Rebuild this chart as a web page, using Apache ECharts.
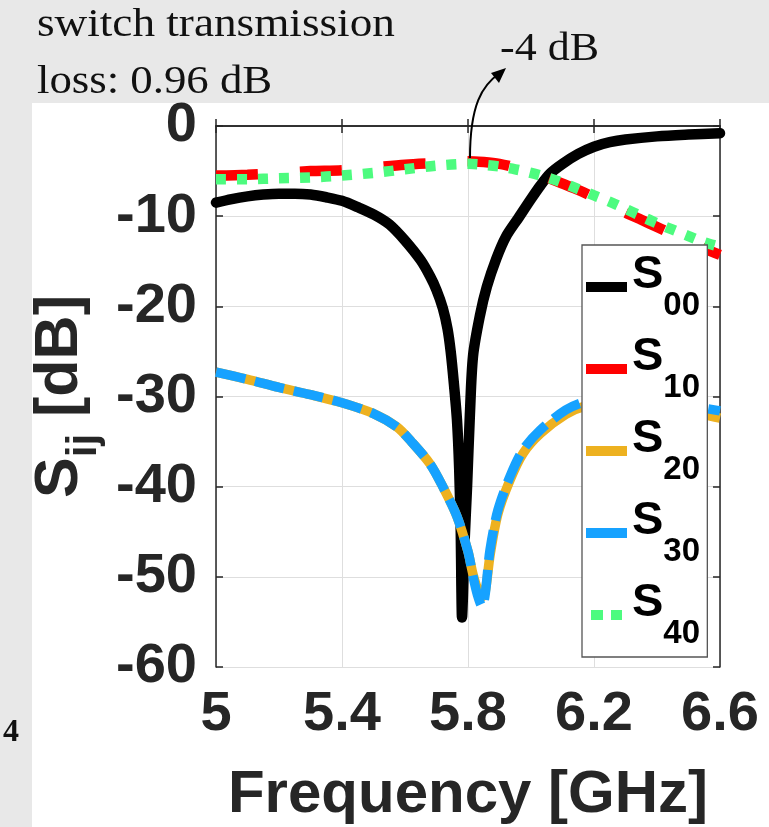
<!DOCTYPE html>
<html>
<head>
<meta charset="utf-8">
<script src="https://cdn.jsdelivr.net/npm/echarts@6/dist/echarts.min.js"></script>
<style>
  html, body { margin: 0; padding: 0; background: #e8e8e8; }
  #main { width: 769px; height: 827px; }
</style>
</head>
<body>
<div id="main"></div>
<script>
// S00 (reflection) - black
var freqS00 = [5.00, 5.05, 5.10, 5.15, 5.20, 5.25, 5.30, 5.35, 5.40, 5.45, 5.50, 5.55, 5.60, 5.65, 5.68,
    5.70, 5.72, 5.735, 5.745, 5.755, 5.765, 5.772, 5.777, 5.779, 5.781, 5.784, 5.788, 5.797, 5.806, 5.816,
    5.838, 5.860, 5.890, 5.920, 5.960, 6.000, 6.030, 6.060, 6.100, 6.150, 6.200, 6.250, 6.300, 6.400, 6.500, 6.600];
var s00 = [-8.5, -8.1, -7.8, -7.6, -7.5, -7.5, -7.6, -7.9, -8.3, -9.0, -9.8, -10.9, -12.7, -14.9, -16.7,
    -18.2, -20.2, -22.5, -25.0, -28.5, -32.6, -38.0, -45.0, -51.0, -54.5, -52.0, -47.0, -40.0, -32.0, -25.5,
    -21.0, -17.8, -14.7, -12.3, -10.2, -8.1, -6.6, -5.3, -4.2, -3.1, -2.3, -1.8, -1.5, -1.15, -0.95, -0.8];

// S10 / S40 (transmission)
var freqTx = [5.00, 5.10, 5.20, 5.30, 5.40, 5.50, 5.60, 5.70, 5.80, 5.85, 5.90, 5.95, 6.00, 6.05, 6.10,
    6.15, 6.20, 6.25, 6.30, 6.35, 6.40, 6.45, 6.50, 6.55, 6.60];
var s10 = [-5.5, -5.4, -5.2, -5.0, -4.9, -4.6, -4.3, -4.1, -3.9, -4.0, -4.2, -4.6, -5.1, -5.7, -6.4,
    -7.1, -7.9, -8.7, -9.6, -10.4, -11.2, -12.0, -12.8, -13.6, -14.3];
var s40 = [-5.9, -5.9, -5.8, -5.7, -5.5, -5.2, -4.8, -4.4, -4.2, -4.3, -4.5, -4.8, -5.2, -5.7, -6.3,
    -7.0, -7.7, -8.4, -9.2, -10.0, -10.8, -11.5, -12.2, -12.9, -13.4];

// S20 / S30 (isolation)
var freqIso = [5.00, 5.10, 5.20, 5.30, 5.40, 5.50, 5.575, 5.62, 5.68, 5.72, 5.765, 5.80, 5.815, 5.83,
    5.845, 5.855, 5.87, 5.895, 5.933, 5.975, 6.03, 6.11, 6.17, 6.25, 6.35, 6.45, 6.55, 6.60];
var s20 = [-27.3, -28.1, -29.0, -29.8, -30.7, -31.9, -33.4, -35.0, -37.5, -40.0, -43.3, -47.2, -49.6, -51.3,
    -52.2, -51.6, -47.6, -43.0, -39.3, -36.3, -34.1, -32.0, -31.1, -30.8, -30.9, -31.3, -32.0, -32.4];
var s30 = [-27.3, -28.1, -29.0, -29.8, -30.7, -31.9, -33.4, -35.0, -37.5, -40.0, -43.3, -47.2, -49.8, -52.0,
    -53.3, -51.8, -47.0, -42.6, -38.9, -35.9, -33.7, -31.5, -30.6, -30.3, -30.4, -30.8, -31.3, -31.6];

var seriesNames = ['S00', 'S10', 'S20', 'S30', 'S40'];
var seriesColors = ['#000000', '#ff0000', '#edb120', '#16a2ff', '#4dfb7f'];

function pairs(xs, ys) {
    return xs.map(function (x, i) { return [x, ys[i]]; });
}

var myChart = echarts.init(document.getElementById('main'));

var axisColor = '#262626';
var sans = 'Liberation Sans, Arial';
var tickFont = { fontSize: 56, fontWeight: 'bold', fontFamily: sans, color: axisColor };

var option = {
    animation: false,
    backgroundColor: '#e8e8e8',
    grid: {
        left: 216, top: 126, right: 49, bottom: 160,
        containLabel: false,
        outerBoundsMode: 'none'
    },
    xAxis: [{
        type: 'value', min: 5, max: 6.6, interval: 0.4,
        name: 'Frequency [GHz]', nameLocation: 'middle', nameGap: 98,
        nameTextStyle: { fontSize: 60, fontWeight: 'bold', fontFamily: sans, color: axisColor },
        axisLine: { show: true, lineStyle: { color: axisColor, width: 1.5 } },
        axisTick: { show: true, inside: true, length: 7, lineStyle: { color: axisColor, width: 1.5 } },
        axisLabel: Object.assign({ margin: 20, formatter: function (v) { return String(+v.toFixed(1)); } }, tickFont),
        splitLine: { show: true, lineStyle: { color: '#dedede', width: 1 } }
    }, {
        type: 'value', min: 5, max: 6.6, interval: 0.4, position: 'top',
        axisLine: { show: true, lineStyle: { color: axisColor, width: 1.5 } },
        axisTick: { show: true, inside: true, length: 7, lineStyle: { color: axisColor, width: 1.5 } },
        axisLabel: { show: false },
        splitLine: { show: false }
    }],
    yAxis: [{
        type: 'value', min: -60, max: 0, interval: 10,
        name: '{s|S}{b|ij}{n| [dB]}', nameLocation: 'middle', nameRotate: 90, nameGap: 68,
        nameTextStyle: {
            rich: {
                s: { fontSize: 61, fontWeight: 'bold', fontFamily: sans, color: axisColor, lineHeight: 75, verticalAlign: 'top' },
                b: { fontSize: 42, fontWeight: 'bold', fontFamily: sans, color: axisColor, lineHeight: 42, verticalAlign: 'bottom' },
                n: { fontSize: 61, fontWeight: 'bold', fontFamily: sans, color: axisColor, lineHeight: 75, verticalAlign: 'top' }
            }
        },
        axisLine: { show: true, lineStyle: { color: axisColor, width: 1.5 } },
        axisTick: { show: true, inside: true, length: 7, lineStyle: { color: axisColor, width: 1.5 } },
        axisLabel: Object.assign({ margin: 19 }, tickFont),
        splitLine: { show: true, lineStyle: { color: '#dedede', width: 1 } }
    }, {
        type: 'value', min: -60, max: 0, interval: 10, position: 'right',
        axisLine: { show: true, lineStyle: { color: axisColor, width: 1.5 } },
        axisTick: { show: true, inside: true, length: 7, lineStyle: { color: axisColor, width: 1.5 } },
        axisLabel: { show: false },
        splitLine: { show: false }
    }],
    legend: {
        orient: 'vertical',
        left: 582, top: 245,
        padding: [7, 7, 7, 4],
        itemGap: 12,
        itemWidth: 41, itemHeight: 10,
        backgroundColor: '#ffffff',
        borderColor: '#555555', borderWidth: 1.3, borderRadius: 0,
        selectedMode: false,
        data: [
            { name: 'S00', icon: 'rect' },
            { name: 'S10', icon: 'rect' },
            { name: 'S20', icon: 'rect' },
            { name: 'S30', icon: 'rect' },
            { name: 'S40', icon: 'path://M0,0H12V10H0Z M20,0H31V10H20Z' }
        ],
        formatter: function (n) { return '{s|S}{b|' + n.slice(1) + '}{h| }'; },
        textStyle: {
            rich: {
                s: { fontSize: 47, fontWeight: 'bold', fontFamily: sans, color: '#000', lineHeight: 56, verticalAlign: 'top' },
                b: { fontSize: 33, fontWeight: 'bold', fontFamily: sans, color: '#000', lineHeight: 30, verticalAlign: 'bottom' },
                h: { fontSize: 1, lineHeight: 70 }
            }
        }
    },
    graphic: [
        { type: 'rect', z: -100, shape: { x: 32, y: 103, width: 737, height: 724 }, style: { fill: '#ffffff' } },
        { type: 'text', x: 37, y: 25, scaleX: 1.13, style: { text: 'switch transmission', font: '40px "Liberation Serif", serif', fill: '#111', verticalAlign: 'middle' } },
        { type: 'text', x: 37, y: 82, scaleX: 1.12, style: { text: 'loss: 0.96 dB', font: '40px "Liberation Serif", serif', fill: '#111', verticalAlign: 'middle' } },
        { type: 'text', x: 500, y: 49, scaleX: 1.1, style: { text: '-4 dB', font: '40px "Liberation Serif", serif', fill: '#111', verticalAlign: 'middle' } },
        { type: 'text', x: 3, y: 733, style: { text: '4', font: 'bold 32px "Liberation Serif", serif', fill: '#111', verticalAlign: 'middle' } },
        { type: 'bezierCurve', z: 100, shape: { x1: 470, y1: 158, cpx1: 470, cpy1: 105, cpx2: 482, cpy2: 85, x2: 500, y2: 73 }, style: { stroke: '#000', lineWidth: 2, fill: null } },
        { type: 'polygon', z: 100, shape: { points: [[506, 68], [491, 73], [499, 83]] }, style: { fill: '#000' } }
    ],
    series: [{
        name: 'S00', type: 'line', showSymbol: false, symbol: 'none', smooth: 0.3,
        data: pairs(freqS00, s00),
        lineStyle: { color: seriesColors[0], width: 10.5, cap: 'round', join: 'round' },
        itemStyle: { color: seriesColors[0] }
    }, {
        name: 'S10', type: 'line', showSymbol: false, symbol: 'none', smooth: 0.3,
        data: pairs(freqTx, s10),
        lineStyle: { color: seriesColors[1], width: 10.5, type: [42, 42] },
        itemStyle: { color: seriesColors[1] }
    }, {
        name: 'S20', type: 'line', showSymbol: false, symbol: 'none', smooth: 0.3,
        data: pairs(freqIso, s20),
        lineStyle: { color: seriesColors[2], width: 9.5, join: 'round' },
        itemStyle: { color: seriesColors[2] }
    }, {
        name: 'S30', type: 'line', showSymbol: false, symbol: 'none', smooth: 0.3,
        data: pairs(freqIso, s30),
        lineStyle: { color: seriesColors[3], width: 9.5, type: [30, 10] },
        itemStyle: { color: seriesColors[3] }
    }, {
        name: 'S40', type: 'line', showSymbol: false, symbol: 'none', smooth: 0.3,
        data: pairs(freqTx, s40),
        lineStyle: { color: seriesColors[4], width: 10.5, type: [10, 11] },
        itemStyle: { color: seriesColors[4] }
    }]
};

myChart.setOption(option);
</script>
</body>
</html>
